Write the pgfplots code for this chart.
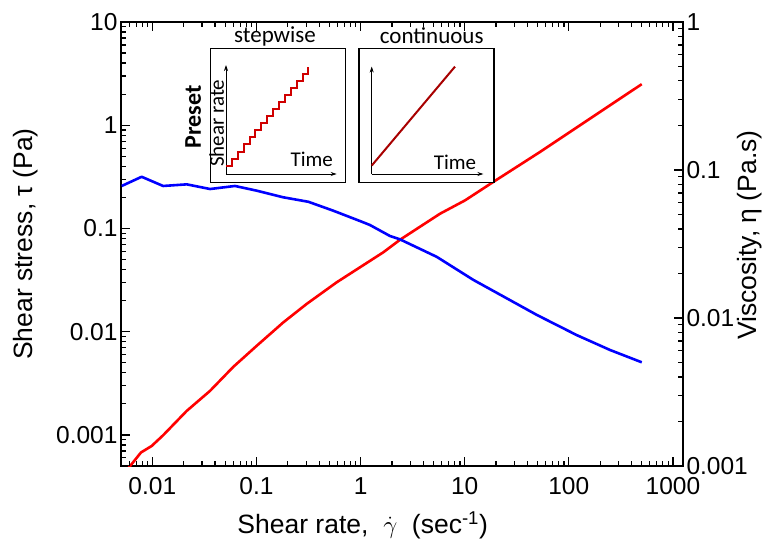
\documentclass[border=0pt]{standalone}
\usepackage{fontspec}
\setmainfont{Liberation Sans}
\newfontfamily\carlito{Carlito}
\usepackage{pgfplots}
\pgfplotsset{compat=1.18}
\usetikzlibrary{arrows.meta}
\definecolor{stepred}{HTML}{D00000}
\definecolor{contred}{HTML}{A80000}
\pgfplotsset{
  every tick label/.append style={font=\fontsize{24.5}{25}\selectfont},
  every axis label/.append style={font=\fontsize{26.5}{28}\selectfont},
}
\begin{document}
\begin{tikzpicture}
\begin{axis}[name=main,
  width=562pt, height=444pt, scale only axis,
  xmode=log, ymode=log, xmin=0.005, xmax=1250,
  axis line style={line width=1.6pt},
  major tick length=8pt, minor tick length=5pt, tick align=inside,
  xtick style={draw=black, line width=1.2pt},
  ytick style={draw=black, line width=1.2pt},
  xtick={0.01,0.1,1,10,100,1000},
  xticklabels={0.01,0.1,1,10,100,1000},
  ymin=0.0005, ymax=10,
  ytick={0.001,0.01,0.1,1,10}, yticklabels={0.001,0.01,0.1,1,10},
  ytick pos=left, xtick pos=both,
  xticklabel style={yshift=-8pt},
  xlabel={Shear rate,\ \ $\dot{\gamma}$\ \ (sec\textsuperscript{-1})},
  xlabel style={at={(axis description cs:0.43,-0.0946)}, anchor=north},
  ylabel={Shear stress, τ (Pa)},
  ylabel style={at={(axis description cs:-0.142,0.5)}, anchor=south},
]
\addplot[red, line width=2.6pt, line join=round] coordinates {
(0.00508,0.000396) (0.00778,0.000676) (0.00986,0.000782) (0.0127,0.000993)
(0.0214,0.00171) (0.0358,0.00267) (0.060,0.00457) (0.1007,0.00731)
(0.181,0.0123) (0.304,0.0186) (0.590,0.0301) (0.989,0.0421)
(1.66,0.0589) (2.39,0.0777) (5.80,0.139) (10.07,0.187)
(18.8,0.282) (52.9,0.551) (160,1.16) (502,2.50)
};
% tick marks, bottom and top
\pgfplotsinvokeforeach{0.01,0.1,1,10,100,1000}{
  \draw[line width=1.2pt] (axis cs:#1,0.0005) -- ++(0pt,9pt);
  \draw[line width=1.2pt] (axis cs:#1,10) -- ++(0pt,-9pt);
}
\pgfplotsinvokeforeach{0.006,0.007,0.008,0.009,0.02,0.03,0.04,0.05,0.06,0.07,0.08,0.09,0.2,0.3,0.4,0.5,0.6,0.7,0.8,0.9,2,3,4,5,6,7,8,9,20,30,40,50,60,70,80,90,200,300,400,500,600,700,800,900}{
  \draw[line width=1.2pt] (axis cs:#1,0.0005) -- ++(0pt,5pt);
  \draw[line width=1.2pt] (axis cs:#1,10) -- ++(0pt,-5pt);
}
% tick marks, left
\pgfplotsinvokeforeach{0.001,0.01,0.1,1,10}{
  \draw[line width=1.2pt] (axis cs:0.005,#1) -- ++(9pt,0pt);
}
\pgfplotsinvokeforeach{0.0006,0.0007,0.0008,0.0009,0.002,0.003,0.004,0.005,0.006,0.007,0.008,0.009,0.02,0.03,0.04,0.05,0.06,0.07,0.08,0.09,0.2,0.3,0.4,0.5,0.6,0.7,0.8,0.9,2,3,4,5,6,7,8,9}{
  \draw[line width=1.2pt] (axis cs:0.005,#1) -- ++(5pt,0pt);
}
\end{axis}
\begin{axis}[at={(main.south west)}, anchor=south west,
  width=562pt, height=444pt, scale only axis,
  xmode=log, ymode=log, xmin=0.005, xmax=1250,
  axis line style={line width=1.6pt},
  major tick length=8pt, minor tick length=5pt, tick align=inside,
  ytick style={draw=black, line width=1.2pt},
  ymin=0.001, ymax=1,
  hide x axis, ytick pos=right, yticklabel pos=right,
  ytick={0.001,0.01,0.1,1}, yticklabels={0.001,0.01,0.1,1},
  ylabel={Viscosity, η (Pa.s)},
  ylabel style={at={(axis description cs:1.0907,0.52)}, anchor=north},
]
\addplot[blue, line width=2.6pt, line join=round] coordinates {
(0.00508,0.078) (0.0079,0.090) (0.0127,0.078) (0.0214,0.080)
(0.0358,0.0744) (0.0622,0.078) (0.1007,0.0725) (0.181,0.0654)
(0.315,0.061) (0.547,0.0531) (0.988,0.0452) (1.23,0.0425) (1.92,0.0358)
(2.39,0.034) (5.39,0.0259) (12.1,0.0181) (27.3,0.0132) (49.2,0.0105)
(119,0.00767) (249,0.00608) (502,0.00502)
};
% tick marks, right
\pgfplotsinvokeforeach{0.001,0.01,0.1,1}{
  \draw[line width=1.2pt] (axis cs:1250,#1) -- ++(-9pt,0pt);
}
\pgfplotsinvokeforeach{0.002,0.003,0.004,0.005,0.006,0.007,0.008,0.009,0.02,0.03,0.04,0.05,0.06,0.07,0.08,0.09,0.2,0.3,0.4,0.5,0.6,0.7,0.8,0.9}{
  \draw[line width=1.2pt] (axis cs:1250,#1) -- ++(-5pt,0pt);
}
\end{axis}
% inset: stepwise
\begin{axis}[at={(main.south west)}, xshift=89.7pt, yshift=283.7pt,
  anchor=south west, width=135pt, height=134pt, scale only axis,
  xmin=0, xmax=135, ymin=0, ymax=134, xtick=\empty, ytick=\empty,
  axis line style={line width=1.3pt},
  axis background/.style={fill=white}, clip=false]
\addplot[black, line width=0.8pt, -{Stealth[length=6pt,width=4pt]}] coordinates {(15.3,8.3) (15.3,117.3)};
\addplot[black, line width=0.8pt, -{Stealth[length=6pt,width=4pt]}] coordinates {(15.3,8.3) (126,8.3)};
\addplot[stepred, line width=2pt, const plot] coordinates {
(15.3,16.7) (21.2,23.7) (27.1,30.8) (33.0,37.9) (38.9,45.0) (44.7,52.0) (50.6,59.1)
(56.5,66.2) (62.4,73.3) (68.3,80.3) (74.1,87.4) (80.0,94.5) (85.9,101.5) (91.8,108.6) (97.7,115.7)
};
\node[font=\carlito\fontsize{23}{23}\selectfont] at (axis cs:64.3,146.3) {stepwise};
\node[rotate=90, font=\carlito\fontsize{21}{21}\selectfont] at (axis cs:6,59) {Shear rate};
\node[rotate=90, font=\carlito\bfseries\fontsize{24}{24}\selectfont] at (axis cs:-17.4,65.6) {Preset};
\node[font=\carlito\fontsize{21}{21}\selectfont] at (axis cs:101,23) {Time};
\end{axis}
% inset: continuous
\begin{axis}[at={(main.south west)}, xshift=238pt, yshift=283.7pt,
  anchor=south west, width=135pt, height=134pt, scale only axis,
  xmin=0, xmax=135, ymin=0, ymax=134, xtick=\empty, ytick=\empty,
  axis line style={line width=1.3pt},
  axis background/.style={fill=white}, clip=false]
\addplot[black, line width=0.8pt, -{Stealth[length=6pt,width=4pt]}] coordinates {(12.7,8.3) (12.7,115.7)};
\addplot[black, line width=0.8pt, -{Stealth[length=6pt,width=4pt]}] coordinates {(12.7,8.3) (124.3,8.3)};
\addplot[contred, line width=2pt] coordinates {(12.7,16.7) (96,115.7)};
\node[font=\carlito\fontsize{23}{23}\selectfont] at (axis cs:72.7,146.3) {continuous};
\node[font=\carlito\fontsize{21}{21}\selectfont] at (axis cs:96,20) {Time};
\end{axis}
\pgfresetboundingbox
\path[use as bounding box] ([shift={(-121pt,-76pt)}]main.south west) rectangle ([shift={(94pt,22pt)}]main.north east);
\end{tikzpicture}
\end{document}
